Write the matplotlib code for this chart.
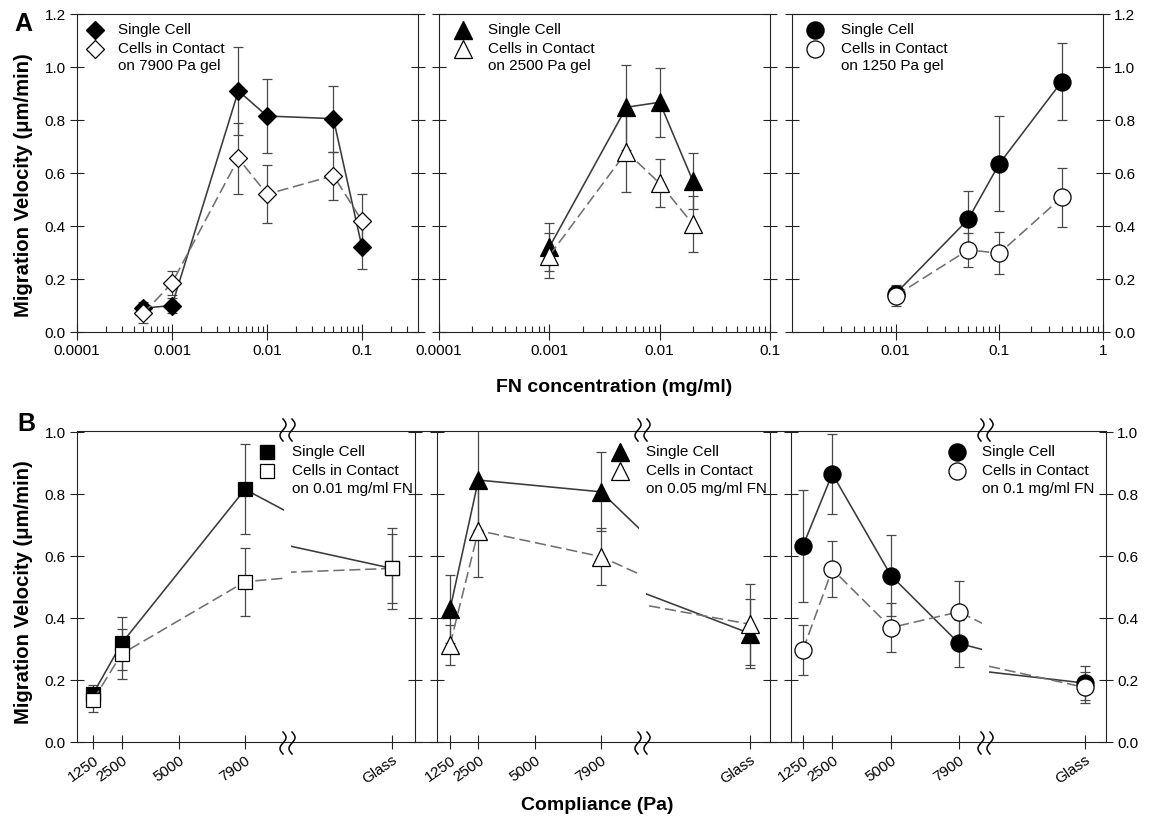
import numpy as np
import matplotlib
matplotlib.use('Agg')
import matplotlib.pyplot as plt
from matplotlib.ticker import FixedLocator, FuncFormatter, LogLocator, MultipleLocator, NullFormatter

plt.rcParams['font.family'] = ['Liberation Sans', 'DejaVu Sans']

# ---------------- Panel A data (FN concentration, mg/ml) ----------------
fn_7900 = [0.0005, 0.001, 0.005, 0.01, 0.05, 0.1]
a7900_single = [0.09, 0.10, 0.91, 0.815, 0.805, 0.32]
a7900_single_err = [0.025, 0.03, 0.165, 0.14, 0.125, 0.083]
a7900_contact = [0.07, 0.185, 0.655, 0.52, 0.59, 0.42]
a7900_contact_err = [0.037, 0.047, 0.135, 0.11, 0.09, 0.10]

fn_2500 = [0.001, 0.005, 0.01, 0.02]
a2500_single = [0.32, 0.848, 0.867, 0.57]
a2500_single_err = [0.09, 0.16, 0.13, 0.105]
a2500_contact = [0.288, 0.68, 0.561, 0.407]
a2500_contact_err = [0.085, 0.15, 0.09, 0.105]

fn_1250 = [0.01, 0.05, 0.1, 0.4]
a1250_single = [0.145, 0.425, 0.635, 0.945]
a1250_single_err = [0.03, 0.108, 0.18, 0.145]
a1250_contact = [0.137, 0.31, 0.297, 0.508]
a1250_contact_err = [0.04, 0.063, 0.08, 0.11]

# ---------------- Panel B data (compliance, Pa; plus glass) ----------------
gel_ticks = [1250, 2500, 5000, 7900]
gel_tick_labels = ['1250', '2500', '5000', '7900']
glass_label = 'Glass'

b001_gel = [1250, 2500, 7900]
b001_single = [0.155, 0.318, 0.815]
b001_single_err = [0.03, 0.085, 0.145]
b001_single_glass, b001_single_glass_err = 0.56, 0.11
b001_contact = [0.135, 0.284, 0.517]
b001_contact_err = [0.037, 0.08, 0.11]
b001_contact_glass, b001_contact_glass_err = 0.56, 0.13

b005_gel = [1250, 2500, 7900]
b005_single = [0.428, 0.845, 0.807]
b005_single_err = [0.11, 0.16, 0.127]
b005_single_glass, b005_single_glass_err = 0.35, 0.11
b005_contact = [0.313, 0.682, 0.598]
b005_contact_err = [0.065, 0.15, 0.092]
b005_contact_glass, b005_contact_glass_err = 0.38, 0.13

b01_gel = [1250, 2500, 5000, 7900]
b01_single = [0.633, 0.865, 0.537, 0.318]
b01_single_err = [0.18, 0.13, 0.13, 0.075]
b01_single_glass, b01_single_glass_err = 0.19, 0.055
b01_contact = [0.297, 0.557, 0.369, 0.42]
b01_contact_err = [0.08, 0.09, 0.08, 0.10]
b01_contact_glass, b01_contact_glass_err = 0.176, 0.05

# ---------------- styling ----------------
W, H = 1152, 821
SOLID_C = '#3a3a3a'
DASH_C = '#707070'
ERR_C = '#484848'
SPINE_C = '#222222'
DASH = (0, (7, 3))
TICK_FS = 11
LEG_FS = 11
LAB_FS = 14
MS_D, MS_T, MS_O, MS_S = 9.6, 12.5, 12.3, 9.4

fig = plt.figure(figsize=(W / 100, H / 100), dpi=100)


def rect(x0, y0, x1, y1):
    return [x0 / W, 1 - y1 / H, (x1 - x0) / W, (y1 - y0) / H]


def style_spines(ax):
    for s in ax.spines.values():
        s.set_color(SPINE_C)
        s.set_linewidth(0.8)


def draw_series(ax, x, y, e, marker, ms, filled):
    ax.errorbar(x, y, yerr=e, fmt='none', ecolor=ERR_C, elinewidth=0.9,
                capsize=3.6, capthick=0.9, zorder=3 if filled else 4)
    ax.plot(x, y, color=SOLID_C if filled else DASH_C, lw=1.15,
            ls='-' if filled else DASH, marker=marker, ms=ms,
            mfc='black' if filled else 'white', mec='black', mew=0.9,
            zorder=5 if filled else 6)


def fmt_log(v, p):
    return f'{v:g}'


# ---------------- Panel A ----------------
A_specs = [
    dict(box=(77, 14, 418, 332), xlim=(1e-4, 10 ** (-1 + 56 / 95)),
         labels=[1e-4, 1e-3, 1e-2, 1e-1], data=(fn_7900, a7900_single, a7900_single_err,
                                                a7900_contact, a7900_contact_err),
         marker='D', ms=MS_D, side='left'),
    dict(box=(439, 14, 770, 332), xlim=(1e-4, 0.1),
         labels=[1e-4, 1e-3, 1e-2, 1e-1], data=(fn_2500, a2500_single, a2500_single_err,
                                                a2500_contact, a2500_contact_err),
         marker='^', ms=MS_T, side='none'),
    dict(box=(792, 14, 1103, 332), xlim=(1e-3, 1),
         labels=[1e-2, 1e-1, 1], data=(fn_1250, a1250_single, a1250_single_err,
                                       a1250_contact, a1250_contact_err),
         marker='o', ms=MS_O, side='right'),
]

for sp in A_specs:
    ax = fig.add_axes(rect(*sp['box']))
    ax.set_xscale('log')
    ax.set_xlim(*sp['xlim'])
    ax.set_ylim(0, 1.2)
    x, ys, yse, yc, yce = sp['data']
    draw_series(ax, x, ys, yse, sp['marker'], sp['ms'], True)
    draw_series(ax, x, yc, yce, sp['marker'], sp['ms'], False)
    ax.xaxis.set_major_locator(FixedLocator(sp['labels']))
    ax.xaxis.set_major_formatter(FuncFormatter(fmt_log))
    ax.xaxis.set_minor_locator(LogLocator(base=10, subs=np.arange(2, 10) * 1.0, numticks=30))
    ax.xaxis.set_minor_formatter(NullFormatter())
    ax.yaxis.set_major_locator(MultipleLocator(0.2))
    ax.yaxis.set_major_formatter(FuncFormatter(lambda v, p: f'{v:.1f}'))
    ax.tick_params(axis='x', which='major', direction='inout', length=11, width=0.8,
                   color=SPINE_C, labelsize=TICK_FS, pad=3, top=False)
    ax.tick_params(axis='x', which='minor', direction='in', length=4, width=0.8,
                   color=SPINE_C, top=False)
    ax.tick_params(axis='y', which='major', direction='inout', length=10, width=0.8,
                   color=SPINE_C, labelsize=TICK_FS, left=True, right=True,
                   labelleft=sp['side'] == 'left', labelright=sp['side'] == 'right', pad=3)
    style_spines(ax)

# ---------------- Panel B ----------------
GLASS_X = 14400.0      # stand-in x for the glass category (after the axis break)
BREAK_RESUME = 12580.0  # data value where the post-break segment resumes

B_specs = [
    dict(left=77, brk_l=284, brk_r=291, right=415, p1250=93, p7900=245, pglass=392,
         gel=b001_gel, s=b001_single, se=b001_single_err, sg=b001_single_glass,
         sge=b001_single_glass_err, c=b001_contact, ce=b001_contact_err,
         cg=b001_contact_glass, cge=b001_contact_glass_err, marker='s', ms=MS_S, side='left'),
    dict(left=437, brk_l=639, brk_r=646, right=770, p1250=450, p7900=601, pglass=750,
         gel=b005_gel, s=b005_single, se=b005_single_err, sg=b005_single_glass,
         sge=b005_single_glass_err, c=b005_contact, ce=b005_contact_err,
         cg=b005_contact_glass, cge=b005_contact_glass_err, marker='^', ms=MS_T, side='none'),
    dict(left=791, brk_l=982, brk_r=989, right=1106, p1250=803, p7900=959, pglass=1085,
         gel=b01_gel, s=b01_single, se=b01_single_err, sg=b01_single_glass,
         sge=b01_single_glass_err, c=b01_contact, ce=b01_contact_err,
         cg=b01_contact_glass, cge=b01_contact_glass_err, marker='o', ms=MS_O, side='right'),
]
B_TOP, B_BOT = 432, 742

for sp in B_specs:
    xs = list(sp['gel']) + [GLASS_X]
    ys = list(sp['s']) + [sp['sg']]
    yse = list(sp['se']) + [sp['sge']]
    yc = list(sp['c']) + [sp['cg']]
    yce = list(sp['ce']) + [sp['cge']]

    scale = (sp['p7900'] - sp['p1250']) / (7900 - 1250)  # px per Pa
    xl0 = 1250 - (sp['p1250'] - sp['left']) / scale
    xl1 = 1250 + (sp['brk_l'] - sp['p1250']) / scale
    axl = fig.add_axes(rect(sp['left'], B_TOP, sp['brk_l'], B_BOT))
    axl.set_xlim(xl0, xl1)

    rscale = (GLASS_X - BREAK_RESUME) / (sp['pglass'] - sp['brk_r'])  # Pa per px
    axr = fig.add_axes(rect(sp['brk_r'], B_TOP, sp['right'], B_BOT))
    axr.set_xlim(BREAK_RESUME, BREAK_RESUME + (sp['right'] - sp['brk_r']) * rscale)

    for ax in (axl, axr):
        ax.set_ylim(0, 1.0)
        ax.patch.set_visible(False)
        draw_series(ax, xs, ys, yse, sp['marker'], sp['ms'], True)
        draw_series(ax, xs, yc, yce, sp['marker'], sp['ms'], False)
        ax.spines['top'].set_visible(False)
        ax.spines['bottom'].set_visible(False)
        ax.yaxis.set_major_locator(MultipleLocator(0.2))
        ax.yaxis.set_major_formatter(FuncFormatter(lambda v, p: f'{v:.1f}'))
        style_spines(ax)

    axl.spines['right'].set_visible(False)
    axr.spines['left'].set_visible(False)
    axl.set_xticks(gel_ticks)
    axl.set_xticklabels(gel_tick_labels)
    axr.set_xticks([GLASS_X])
    axr.set_xticklabels([glass_label])
    for ax in (axl, axr):
        ax.tick_params(axis='x', direction='inout', length=10, width=0.8, color=SPINE_C,
                       labelsize=TICK_FS, pad=3)
        for lab in ax.get_xticklabels():
            lab.set_rotation(35)
            lab.set_ha('right')
            lab.set_va('top')
            lab.set_rotation_mode('anchor')
    axl.tick_params(axis='y', direction='inout', length=10, width=0.8, color=SPINE_C,
                    labelsize=TICK_FS, left=True, right=False,
                    labelleft=sp['side'] == 'left', labelright=False, pad=3)
    axr.tick_params(axis='y', direction='inout', length=10, width=0.8, color=SPINE_C,
                    labelsize=TICK_FS, left=False, right=True,
                    labelleft=False, labelright=sp['side'] == 'right', pad=3)

# ---------------- overlay: frame lines, break marks, legends, labels ----------------
ov = fig.add_axes([0, 0, 1, 1])
ov.set_xlim(0, W)
ov.set_ylim(H, 0)
ov.axis('off')
ov.set_zorder(10)
ov.patch.set_visible(False)

ov.plot([77, 1106], [B_TOP - 0.5, B_TOP - 0.5], color=SPINE_C, lw=0.8)
ov.plot([77, 1106], [B_BOT, B_BOT], color=SPINE_C, lw=0.8)

t = np.linspace(-1, 1, 60)
for sp in B_specs:
    xc = (sp['brk_l'] + sp['brk_r']) / 2
    for yc0 in (B_TOP - 2, B_BOT + 1):
        for off in (-4.5, 4.5):
            ov.plot(xc + off - 3.0 * np.sin(np.pi * t), yc0 + 11 * t, color='black', lw=1.1)


def legend(xm, xt, y_rows, marker, ms, third):
    ov.plot([xm], [y_rows[0]], marker=marker, ms=ms, mfc='black', mec='black', ls='none')
    ov.plot([xm], [y_rows[1]], marker=marker, ms=ms, mfc='white', mec='black', mew=0.9, ls='none')
    for yy, txt in zip(y_rows, ['Single Cell', 'Cells in Contact', third]):
        ov.text(xt, yy, txt, ha='left', va='center', fontsize=LEG_FS)


legend(95, 118, (30, 49, 66), 'D', MS_D, 'on 7900 Pa gel')
legend(463, 488, (30, 49, 66), '^', MS_T, 'on 2500 Pa gel')
legend(815, 841, (30, 49, 66), 'o', MS_O, 'on 1250 Pa gel')
legend(267, 292, (452, 471, 489), 's', MS_S, 'on 0.01 mg/ml FN')
legend(620, 646, (452, 471, 489), '^', MS_T, 'on 0.05 mg/ml FN')
legend(957, 982, (452, 471, 489), 'o', MS_O, 'on 0.1 mg/ml FN')

ov.text(23, 24, 'A', ha='center', va='center', fontsize=18, fontweight='bold')
ov.text(26, 424, 'B', ha='center', va='center', fontsize=18, fontweight='bold')
ov.text(24, 185, 'Migration Velocity (μm/min)', rotation=90, ha='center', va='center',
        fontsize=14.6, fontweight='bold')
ov.text(24, 592, 'Migration Velocity (μm/min)', rotation=90, ha='center', va='center',
        fontsize=14.6, fontweight='bold')
ov.text(614, 388, 'FN concentration (mg/ml)', ha='center', va='center',
        fontsize=LAB_FS, fontweight='bold')
ov.text(597, 805, 'Compliance (Pa)', ha='center', va='center',
        fontsize=LAB_FS, fontweight='bold')

fig.savefig('out.png', dpi=100)
